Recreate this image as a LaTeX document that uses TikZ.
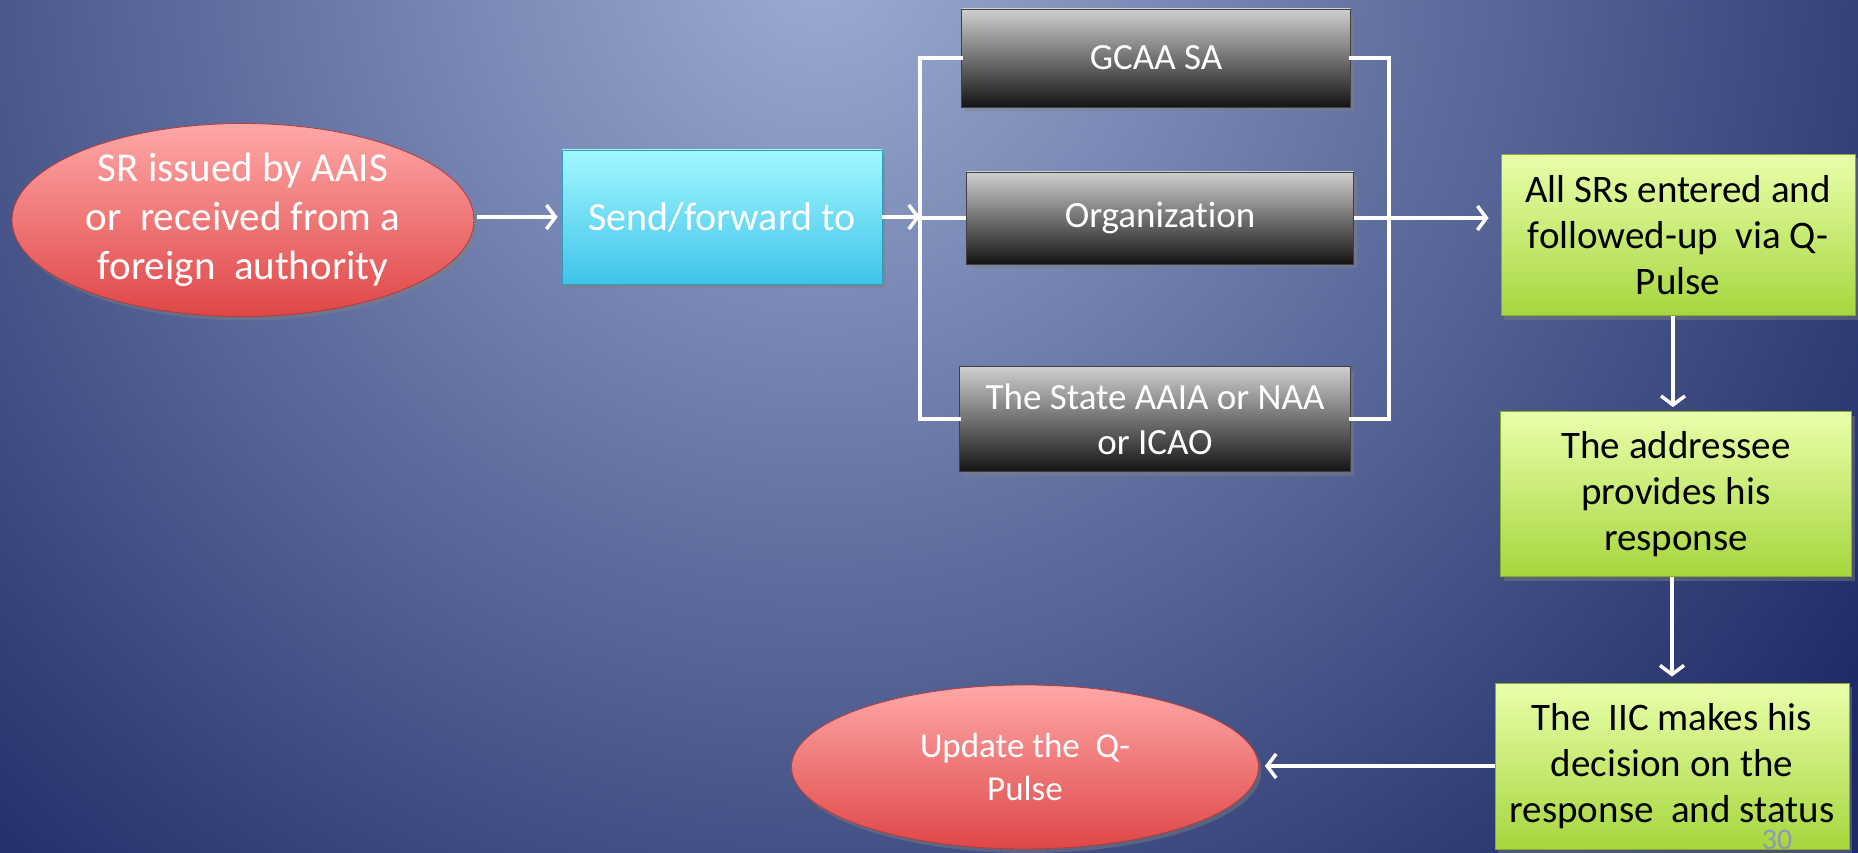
\documentclass[tikz,border=0pt]{standalone}
\usepackage{fontspec}
\setmainfont[Ligatures=CommonOff]{Carlito}
\usetikzlibrary{shapes.geometric,arrows.meta,shadows}
\definecolor{bglight}{HTML}{9DACD3}
\definecolor{bgdark}{HTML}{1E2B66}
\definecolor{redtop}{HTML}{FFA8A8}
\definecolor{redbot}{HTML}{DF4646}
\definecolor{redline}{HTML}{B83A3A}
\definecolor{cyantop}{HTML}{A2F8FF}
\definecolor{cyanbot}{HTML}{3FC3EA}
\definecolor{cyanline}{HTML}{2E9CC0}
\definecolor{graytop}{HTML}{CFCFCF}
\definecolor{graymid}{HTML}{787878}
\definecolor{graybot}{HTML}{141414}
\definecolor{greentop}{HTML}{E9FFAA}
\definecolor{greenbot}{HTML}{A6D63E}
\definecolor{greenline}{HTML}{86AE2C}
\definecolor{pagenum}{HTML}{8F97B4}
\tikzset{
  shad/.style={drop shadow={opacity=0.45,shadow xshift=3pt,shadow yshift=-4pt}},
  redell/.style={ellipse,draw=redline,line width=0.8pt,top color=redtop,bottom color=redbot,shad,inner sep=0pt},
  cyanbox/.style={rectangle,draw=cyanline,line width=0.8pt,top color=cyantop,bottom color=cyanbot,shad,inner sep=0pt,
     text=white,font=\fontsize{40}{48}\selectfont,align=center},
  graybox/.style={rectangle,draw=black!75,line width=0.8pt,top color=graytop,middle color=graymid,bottom color=graybot,shad,inner sep=0pt,
     text=white,font=\fontsize{37}{45}\selectfont,align=center},
  greenbox/.style={rectangle,draw=greenline,line width=0.8pt,top color=greentop,bottom color=greenbot,shad,inner sep=0pt,
     text=black,font=\fontsize{39}{46}\selectfont,align=center},
  elltext/.style={text=white,align=center,inner sep=0pt},
  wline/.style={draw=white,line width=4pt},
  warr/.style={wline,-{Straight Barb[length=9pt,width=24pt,line width=3.5pt]}},
}
\begin{document}
\begin{tikzpicture}[x=1pt,y=-1pt]
\useasboundingbox (0,0) rectangle (1858,853);
\begin{scope}
  \clip (0,0) rectangle (1858,853);
  \fill[bgdark] (0,0) rectangle (1858,853);
  \shade[inner color=bglight,outer color=bgdark] (820,-40) circle (1260);
\end{scope}

% nodes
\node[redell,minimum width=462pt,minimum height=193pt] (ell1) at (243,220) {};
\node[elltext,font=\fontsize{41}{49}\selectfont] (ell1t) at (ell1.center) {SR issued by AAIS\\or\ \ received from a\\foreign\ \ authority};
\node[cyanbox,minimum width=320pt,minimum height=134pt] (send) at (722,217) {Send/forward to};
\node[graybox,minimum width=389pt,minimum height=98pt] (gcaa) at (1156,58) {GCAA SA};
\node[graybox,minimum width=387pt,minimum height=92pt] (org) at (1160,218) {Organization};
\node[graybox,minimum width=391pt,minimum height=105pt] (state) at (1155,419) {The State AAIA or NAA\\or ICAO};
\node[greenbox,minimum width=354pt,minimum height=161pt] (g1) at (1678,235) {All SRs entered and\\followed-up\ \ via Q-\\Pulse};
\node[greenbox,minimum width=351pt,minimum height=165pt] (g2) at (1676,494) {The addressee\\provides his\\response};
\node[greenbox,minimum width=354pt,minimum height=166pt] (g3) at (1672,766) {The\ \ IIC makes his\\decision on the\\response\ \ and status};
\node[redell,minimum width=467pt,minimum height=164pt] (ell2) at (1025,767) {};
\node[elltext,font=\fontsize{35}{43}\selectfont] (ell2t) at (ell2.center) {Update the\ \ Q-\\Pulse};
\node[text=pagenum,font=\fontsize{30}{36}\selectfont,anchor=base,inner sep=0pt] (pg) at (1777,849) {30};

% bracket coordinates
\coordinate (lbx) at (920,0);
\coordinate (rbx) at (1389,0);

% connectors
\draw[warr] ([xshift=3pt]ell1.east |- send.west) -- ([xshift=-4pt]send.west);
\draw[warr] (send.east) -- (send.east -| lbx);
\draw[wline,line cap=rect] (gcaa.west) -- (gcaa.west -| lbx) -- (state.west -| lbx) -- (state.west);
\draw[wline] (org.west) -- (org.west -| lbx);
\draw[wline,line cap=rect] (gcaa.east) -- (gcaa.east -| rbx) -- (state.east -| rbx) -- (state.east);
\draw[wline] (org.east) -- (org.east -| rbx);
\draw[warr] (org.east -| rbx) -- ([xshift=-12pt]g1.west |- org.east);
\draw[warr] ([xshift=-5pt]g1.south) -- ([xshift=-5pt,yshift=4pt]g1.south |- g2.north);
\draw[warr] ([xshift=-4pt]g2.south) -- ([xshift=-4pt,yshift=6pt]g2.south |- g3.north);
\draw[warr] (g3.west) -- ([xshift=6pt]ell2.east |- g3.west);
\end{tikzpicture}
\end{document}
